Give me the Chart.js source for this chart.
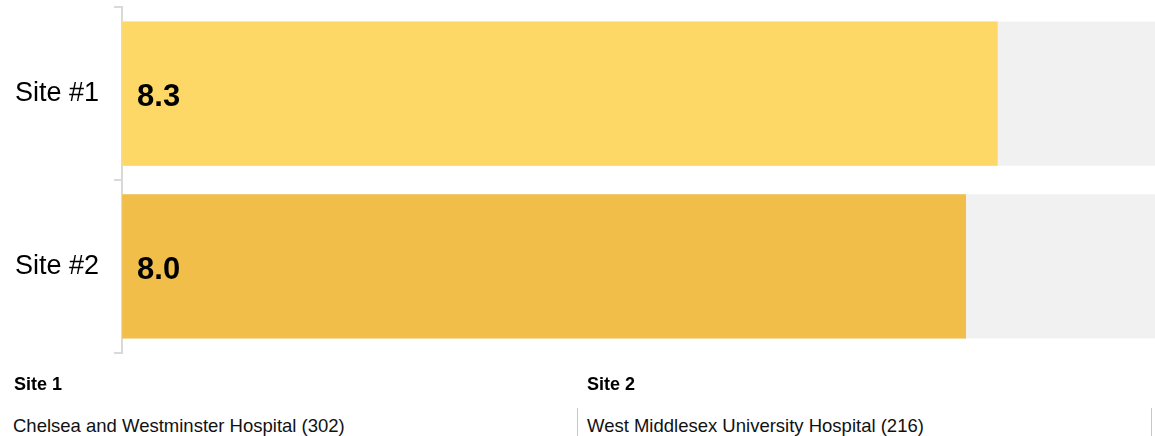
<!DOCTYPE html>
<html>
<head>
<meta charset="utf-8">
<script src="https://cdn.jsdelivr.net/npm/chart.js@4/dist/chart.umd.min.js"></script>
<style>
  html, body { margin: 0; padding: 0; background: #fff; overflow: hidden; width: 1155px; height: 436px; }
  body { position: relative; font-family: "Liberation Sans", Arial, sans-serif; }
  #wrap { position: absolute; left: 0; top: -24px; width: 1177px; height: 408px; }
  .hd { position: absolute; font-weight: bold; font-size: 18px; line-height: 20px; color: #000; white-space: nowrap; }
  .cell { position: absolute; top: 408px; height: 30px; border-right: 1px solid #c8c8c8; }
  .nm { position: absolute; font-size: 18.5px; line-height: 20px; color: #111; white-space: nowrap; }
</style>
</head>
<body>
<div id="wrap"><canvas id="c"></canvas></div>
<div class="cell" style="left:0; width:577px;"></div>
<div class="cell" style="left:578px; width:573px;"></div>
<div class="hd" id="h1" style="left:14px; top:374px;"></div>
<div class="hd" id="h2" style="left:587px; top:374px;"></div>
<div class="nm" id="n1" style="left:13px; top:416px;"></div>
<div class="nm" id="n2" style="left:587px; top:416px;"></div>
<script>
const categories = ["Site #1", "Site #2"];
const scores = [8.3, 8.0];
const maxScore = [10, 10];
const siteHeadings = ["Site 1", "Site 2"];
const siteNames = ["Chelsea and Westminster Hospital (302)", "West Middlesex University Hospital (216)"];
const barColors = ["#FDD867", "#F0BE49"];

document.getElementById('h1').textContent = siteHeadings[0];
document.getElementById('h2').textContent = siteHeadings[1];
document.getElementById('n1').textContent = siteNames[0];
document.getElementById('n2').textContent = siteNames[1];

const FONT = '"Liberation Sans", Arial, sans-serif';

const valueLabels = {
  id: 'valueLabels',
  afterDatasetsDraw(chart) {
    const ctx = chart.ctx;
    const meta = chart.getDatasetMeta(0);
    ctx.save();
    ctx.font = 'bold 31px ' + FONT;
    ctx.fillStyle = '#000';
    ctx.textAlign = 'left';
    ctx.textBaseline = 'middle';
    meta.data.forEach((bar, i) => {
      ctx.fillText(scores[i].toFixed(1), bar.base + 15, bar.y + 4);
    });
    ctx.restore();
  }
};

new Chart(document.getElementById('c'), {
  type: 'bar',
  data: {
    labels: categories,
    datasets: [
      { data: scores, backgroundColor: barColors, grouped: false, categoryPercentage: 1, barPercentage: 0.835 },
      { data: maxScore, backgroundColor: '#F1F1F1', grouped: false, categoryPercentage: 1, barPercentage: 0.835 }
    ]
  },
  options: {
    indexAxis: 'y',
    responsive: true,
    maintainAspectRatio: false,
    animation: false,
    events: [],
    layout: { padding: { left: 0, top: 7, bottom: 8, right: 0 } },
    plugins: { legend: { display: false }, tooltip: { enabled: false } },
    scales: {
      x: { display: false, min: 0, max: 10 },
      y: {
        offset: true,
        border: { display: true, color: '#D9D9D9', width: 2 },
        grid: { display: true, drawOnChartArea: false, drawTicks: true, tickLength: 8, color: '#D9D9D9', lineWidth: 2 },
        ticks: { color: '#000', font: { family: FONT, size: 27 }, padding: 15 }
      }
    }
  },
  plugins: [valueLabels]
});
</script>
</body>
</html>
